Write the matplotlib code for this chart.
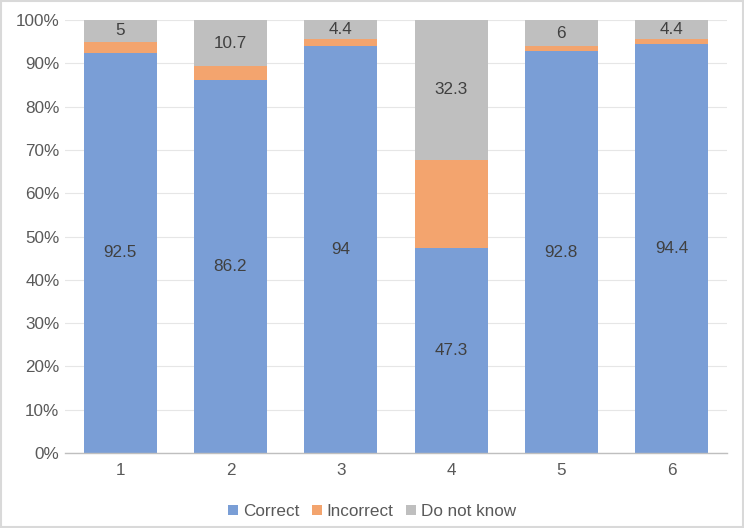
import matplotlib.pyplot as plt
import numpy as np
from matplotlib.patches import Rectangle

plt.rcParams['font.family'] = ['Liberation Sans', 'DejaVu Sans']

# data
categories = ["1", "2", "3", "4", "5", "6"]
correct = [92.5, 86.2, 94, 47.3, 92.8, 94.4]
dont_know = [5, 10.7, 4.4, 32.3, 6, 4.4]
incorrect = [round(100 - c - d, 1) for c, d in zip(correct, dont_know)]

c_blue = "#7A9ED6"
c_orange = "#F3A46E"
c_gray = "#BFBFBF"
txt = "#404040"
fs = 12.3

fig = plt.figure(figsize=(7.44, 5.28), dpi=100)
ax = fig.add_axes([0.0874, 0.142, 0.8896, 0.820])

x = np.arange(len(categories))
w = 0.66
ax.bar(x, correct, w, color=c_blue, label="Correct", zorder=2)
ax.bar(x, incorrect, w, bottom=correct, color=c_orange, label="Incorrect", zorder=2)
bottom2 = [c + i for c, i in zip(correct, incorrect)]
ax.bar(x, dont_know, w, bottom=bottom2, color=c_gray, label="Do not know", zorder=2)

# data labels
for xi, c, b, d in zip(x, correct, bottom2, dont_know):
    ax.text(xi, c / 2, f"{c:g}", ha="center", va="center", fontsize=fs, color=txt, zorder=3)
    ax.text(xi, b + d / 2, f"{d:g}", ha="center", va="center", fontsize=fs, color=txt, zorder=3)

ax.set_xlim(-0.5, len(categories) - 0.5)
ax.set_ylim(0, 100)
ax.set_yticks(np.arange(0, 101, 10))
ax.set_yticklabels([f"{v}%" for v in range(0, 101, 10)])
ax.set_xticks(x)
ax.set_xticklabels(categories)
ax.tick_params(axis="both", length=0, labelsize=fs, colors="#595959")
ax.tick_params(axis="y", pad=4)
ax.tick_params(axis="x", pad=7)
ax.yaxis.grid(True, color="#E6E6E6", linewidth=0.8, zorder=0)
for s in ["top", "right", "left"]:
    ax.spines[s].set_visible(False)
ax.spines["bottom"].set_color("#BFBFBF")
ax.spines["bottom"].set_linewidth(1)

fig.legend(loc="lower center", bbox_to_anchor=(0.5, -0.012), ncol=3, frameon=False,
           fontsize=fs, labelcolor="#595959", handlelength=0.6, handleheight=0.6,
           handletextpad=0.3, columnspacing=0.7)

# figure border
fig.patches.append(Rectangle((0.001, 0.001), 0.997, 0.997, transform=fig.transFigure,
                             fill=False, edgecolor="#D9D9D9", linewidth=1.5))

fig.savefig("out.png", dpi=100)
